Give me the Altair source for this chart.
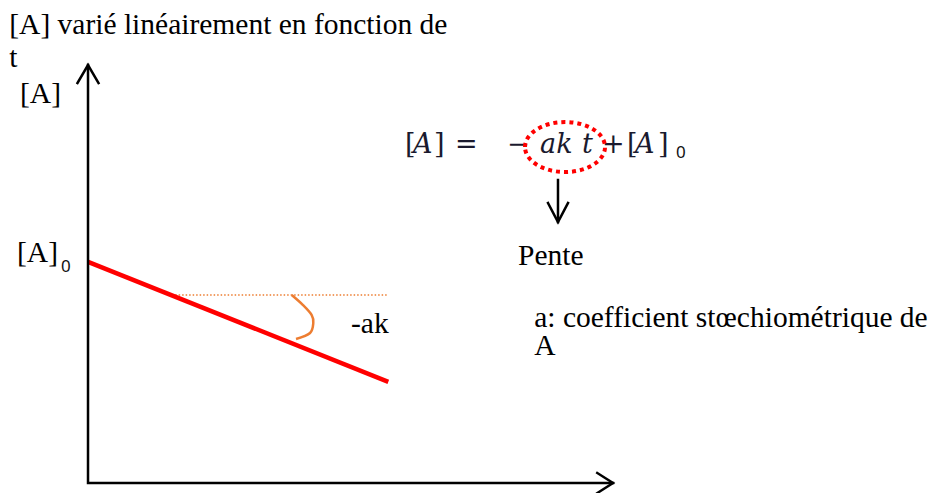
import altair as alt
import pandas as pd

# ---- data (t on horizontal axis, [A] on vertical axis) ----
axis_t = [0, 0, 10]
axis_A = [10, 0, 0]
arrow_up_t = [-0.2, 0, 0.2]
arrow_up_A = [9.57, 10, 9.57]
arrow_right_t = [9.7, 10, 9.7]
arrow_right_A = [0.24, 0, -0.24]

line_t = [0, 5.72]
line_A = [5.29, 2.42]

ref_t = [1.66, 5.72]
ref_A = [4.5, 4.5]

arc_t = [3.88, 4.095, 4.261, 4.291, 4.229, 3.962]
arc_A = [4.498, 4.258, 4.019, 3.828, 3.589, 3.445]

down_t = [8.952, 8.952]
down_A = [7.249, 6.244]
down_head_t = [8.762, 8.952, 9.143]
down_head_A = [6.699, 6.244, 6.699]

labels = ["[A] varié linéairement en fonction de", "t", "[A]", "[A]", "-ak",
          "Pente", "a: coefficient stœchiométrique de", "A"]
label_t = [-1.50, -1.50, -1.295, -1.352, 5.010, 8.190, 8.50, 8.50]
label_A = [10.742, 9.952, 9.091, 5.287, 3.589, 5.215, 3.732, 3.062]

sub_labels = ["0", "0"]
sub_t = [-0.514, 11.200]
sub_A = [5.048, 7.775]

eq_upright = ["[", "]", "=", "−", "+", "[", "]"]
eq_upright_t = [6.038, 6.590, 6.990, 7.981, 9.790, 10.267, 10.857]
eq_italic = ["A", "ak", "t", "A"]
eq_italic_t = [6.190, 8.610, 9.410, 10.419]
eq_A = 7.895

ellipse_t = [9.086]
ellipse_A = [8.038]

SERIF = "Liberation Serif, Times New Roman, Times, serif"
MATH = "DejaVu Serif, Liberation Serif, serif"

X = alt.Scale(domain=[-1.524, 16.057], nice=False, zero=False)
Y = alt.Scale(domain=[-0.239, 11.364], nice=False, zero=False)


def enc(ch):
    return ch.encode(
        x=alt.X("t:Q", scale=X, axis=None),
        y=alt.Y("A:Q", scale=Y, axis=None),
    )


def path_df(groups):
    rows = []
    for gi, (ts, As) in enumerate(groups):
        for i, (t, a) in enumerate(zip(ts, As)):
            rows.append({"g": gi, "o": i, "t": t, "A": a})
    return pd.DataFrame(rows)


axes_df = path_df([(axis_t, axis_A), (arrow_up_t, arrow_up_A),
                   (arrow_right_t, arrow_right_A),
                   (down_t, down_A), (down_head_t, down_head_A)])

axes = alt.Chart(axes_df).mark_line(
    color="black", strokeWidth=2.5, strokeJoin="miter", strokeCap="square"
).encode(
    x=alt.X("t:Q", scale=X, axis=None),
    y=alt.Y("A:Q", scale=Y, axis=None),
    detail="g:N", order="o:Q",
)

red = alt.Chart(path_df([(line_t, line_A)])).mark_line(
    color="#ff0000", strokeWidth=4.5
).encode(
    x=alt.X("t:Q", scale=X, axis=None),
    y=alt.Y("A:Q", scale=Y, axis=None),
    order="o:Q",
)

ref = alt.Chart(path_df([(ref_t, ref_A)])).mark_line(
    color="#ed7d31", strokeWidth=1.5, strokeDash=[1.5, 2]
).encode(
    x=alt.X("t:Q", scale=X, axis=None),
    y=alt.Y("A:Q", scale=Y, axis=None),
    order="o:Q",
)

arc = alt.Chart(path_df([(arc_t, arc_A)])).mark_line(
    color="#ed7d31", strokeWidth=2.5, interpolate="cardinal"
).encode(
    x=alt.X("t:Q", scale=X, axis=None),
    y=alt.Y("A:Q", scale=Y, axis=None),
    order="o:Q",
)

text_df = pd.DataFrame({"label": labels, "t": label_t, "A": label_A})
texts = enc(alt.Chart(text_df).mark_text(
    font=SERIF, fontSize=29.5, align="left", baseline="alphabetic",
    color="black"
)).encode(text="label:N")

sub_df = pd.DataFrame({"label": sub_labels, "t": sub_t, "A": sub_A})
subs = enc(alt.Chart(sub_df).mark_text(
    font="Noto Sans, sans-serif", fontSize=17, align="left",
    baseline="alphabetic", color="#111"
)).encode(text="label:N")

eq1_df = pd.DataFrame({"label": eq_upright, "t": eq_upright_t,
                       "A": [eq_A] * len(eq_upright)})
eq1 = enc(alt.Chart(eq1_df).mark_text(
    font=MATH, fontSize=27, align="left", baseline="alphabetic",
    color="#1a1a2e"
)).encode(text="label:N")

eq2_df = pd.DataFrame({"label": eq_italic, "t": eq_italic_t,
                       "A": [eq_A] * len(eq_italic)})
eq2 = enc(alt.Chart(eq2_df).mark_text(
    font=MATH, fontSize=27, fontStyle="italic", align="left",
    baseline="alphabetic", color="#1a1a2e"
)).encode(text="label:N")

ell_df = pd.DataFrame({"t": ellipse_t, "A": ellipse_A})
ellipse = enc(alt.Chart(ell_df).mark_point(
    shape="M -1 0 A 1 0.625 0 1 1 1 0 A 1 0.625 0 1 1 -1 0 Z",
    size=6400, filled=False, color="#ff0000", strokeWidth=4,
    strokeDash=[4, 4], opacity=1
))

chart = alt.layer(
    ref, red, arc, axes, texts, subs, eq1, eq2, ellipse
).properties(
    width=923, height=485,
    autosize=alt.AutoSizeParams(type="none"),
    padding=0,
).configure_view(stroke=None)

chart.save("out.html", embed_options={"renderer": "svg", "actions": False})
